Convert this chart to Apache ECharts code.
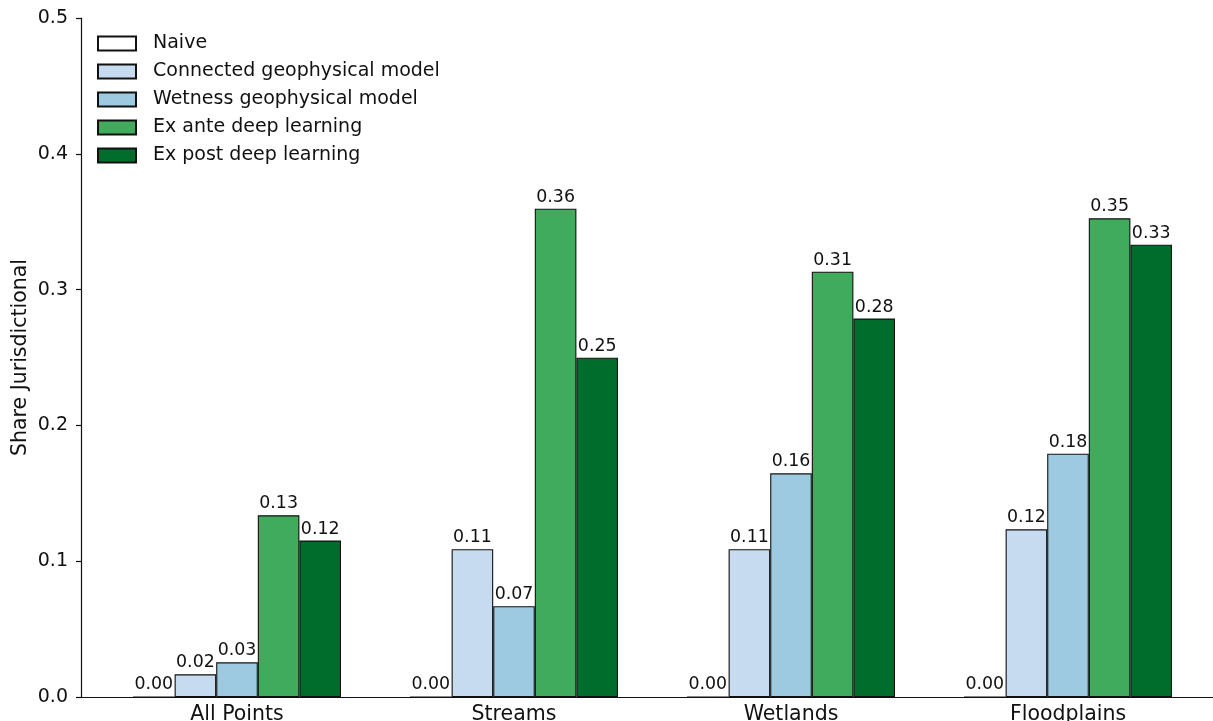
<!DOCTYPE html>
<html>
<head>
<meta charset="utf-8">
<script src="https://cdn.jsdelivr.net/npm/echarts@6/dist/echarts.min.js"></script>
<style>
  html, body { margin: 0; padding: 0; background: #fff; }
  #chart { width: 1213px; height: 721px; }
</style>
</head>
<body>
<div id="chart"></div>
<script>
// Share of points judged jurisdictional, by feature type and classifier
const categories = ['All Points', 'Streams', 'Wetlands', 'Floodplains'];
const seriesNames = [
  'Naive',
  'Connected geophysical model',
  'Wetness geophysical model',
  'Ex ante deep learning',
  'Ex post deep learning'
];
const naive      = [0.0, 0.0, 0.0, 0.0];
const connected  = [0.0167, 0.1088, 0.1088, 0.1235];
const wetness    = [0.0255, 0.0669, 0.1647, 0.1792];
const exAnte     = [0.1338, 0.3596, 0.3132, 0.3525];
const exPost     = [0.1152, 0.2498, 0.2787, 0.3331];
const yTicks = [0, 0.1, 0.2, 0.3, 0.4, 0.5];

const values = [naive, connected, wetness, exAnte, exPost];
const colors = ['#ffffff', '#c6dbef', '#9ecae1', '#41ab5d', '#006d2c'];
const FONT = 'DejaVu Sans';

const chart = echarts.init(document.getElementById('chart'), null, { renderer: 'canvas' });

const series = seriesNames.map((name, i) => ({
  name,
  type: 'bar',
  xAxisIndex: 0,
  yAxisIndex: 0,
  data: values[i],
  barWidth: 41.6,
  barGap: '0%',
  itemStyle: { color: colors[i], borderColor: '#111', borderWidth: 1.1 },
  label: {
    show: true,
    position: 'top',
    distance: 3,
    color: '#111',
    fontFamily: FONT,
    fontSize: 17.4,
    formatter: p => p.value.toFixed(2)
  },
  emphasis: { disabled: true },
  animation: false
}));

chart.setOption({
  animation: false,
  grid: [
    // bars
    { left: 98.5, width: 1108, top: 18, height: 679, outerBoundsMode: 'none' },
    // spines
    { left: 81, width: 1143, top: 18, height: 679, outerBoundsMode: 'none' }
  ],
  legend: {
    orient: 'vertical',
    left: 92,
    top: 29,
    itemWidth: 38,
    itemHeight: 14,
    itemGap: 9,
    icon: 'rect',
    data: seriesNames,
    textStyle: { fontFamily: FONT, fontSize: 19, color: '#111', padding: [0, 0, 0, 12] },
    selectedMode: false
  },
  xAxis: [
    {
      type: 'category',
      gridIndex: 0,
      data: categories,
      axisLine: { show: false },
      axisTick: { show: false },
      axisLabel: { fontFamily: FONT, fontSize: 20.5, color: '#111', margin: 7 }
    },
    {
      type: 'value',
      gridIndex: 1,
      min: 0, max: 1,
      axisLine: { show: true, onZero: false, lineStyle: { color: '#111', width: 1.2 } },
      axisTick: { show: false },
      axisLabel: { show: false },
      splitLine: { show: false }
    }
  ],
  yAxis: [
    {
      type: 'value',
      gridIndex: 0,
      min: 0, max: 0.5,
      show: false
    },
    {
      type: 'value',
      gridIndex: 1,
      min: yTicks[0], max: yTicks[yTicks.length - 1], interval: 0.1,
      name: 'Share Jurisdictional',
      nameLocation: 'middle',
      nameGap: 50,
      nameMoveOverlap: false,
      nameTextStyle: { fontFamily: FONT, fontSize: 20.5, color: '#111' },
      axisLine: { show: true, onZero: false, lineStyle: { color: '#111', width: 1.2 } },
      axisTick: { show: true, length: 5, lineStyle: { color: '#111', width: 1.2 } },
      axisLabel: { fontFamily: FONT, fontSize: 19, color: '#111', margin: 13, formatter: v => v.toFixed(1) },
      splitLine: { show: false }
    }
  ],
  series
});
</script>
</body>
</html>
